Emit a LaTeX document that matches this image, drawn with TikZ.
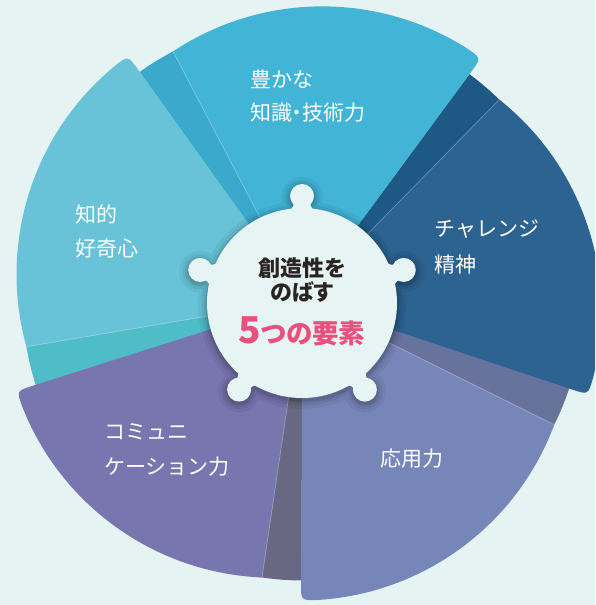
\documentclass[tikz,border=0pt]{standalone}
\usepackage{fontspec}
\newfontfamily\jp{Noto Sans CJK JP}
\newfontfamily\jpp{Noto Sans CJK JP}[RawFeature=+palt]
\usetikzlibrary{calc}
\definecolor{bg}{HTML}{E6F3F3}
\definecolor{circfill}{HTML}{E7F4F4}
\definecolor{cardJ}{HTML}{69C3D8}
\definecolor{baseJ}{HTML}{4EBDC8}
\definecolor{cardT}{HTML}{42B5D7}
\definecolor{baseT}{HTML}{3BA9CB}
\definecolor{cardC}{HTML}{2C6391}
\definecolor{baseC}{HTML}{1E5986}
\definecolor{cardO}{HTML}{7786B9}
\definecolor{baseO}{HTML}{67739B}
\definecolor{cardK}{HTML}{7876AE}
\definecolor{baseK}{HTML}{686882}
\definecolor{darktext}{HTML}{2A2522}
\definecolor{pinktext}{HTML}{E8507E}
\newcommand\cardshape[2]{%
 \pgfmathsetmacro\ka{#1}%
 \pgfmathsetmacro\kc{#1+3.9}%
 \pgfmathsetmacro\kd{#1+70}%
 \pgfmathsetmacro\ke{#1-2.9}%
 \pgfmathsetmacro\kf{#1+64}%
 \fill[#2] (C0) -- ($(C0)+(\ka:283.5)$) .. controls ($(C0)+(\ka:300.5)$) .. ($(C0)+(\ke:30.54)+(\kc:270)$) arc[start angle=\kc, end angle=\kd, radius=270] -- cycle;
 \draw[white, opacity=.3, line width=.7] (C0) -- ($(C0)+(\kf:280.5)$);
}
\newcommand\basesector[2]{%
 \pgfmathsetmacro\ba{#1}%
 \pgfmathsetmacro\bb{#1+72}%
 \fill[#2] (C0) -- ($(C0)+(\ba:280.5)$) arc[start angle=\ba, end angle=\bb, radius=280.5] -- cycle;
}
\tikzset{
  lab/.style={text=white, font=\jp\fontsize{21}{21}\selectfont, inner sep=0pt, anchor=west},
  labc/.style={text=white, font=\jp\fontsize{21}{21}\selectfont, inner sep=0pt},
  ctext/.style={text=darktext, font=\jpp\bfseries\fontsize{22}{22}\selectfont, inner sep=0pt},
  ptext/.style={text=pinktext, font=\jpp\bfseries\fontsize{26.5}{26.5}\selectfont, inner sep=0pt}
}
\begin{document}
\begin{tikzpicture}[x=1pt,y=1pt]
\useasboundingbox (0,0) rectangle (595,605);
\clip (0,0) rectangle (595,605);
\fill[bg] (0,0) rectangle (595,605);
\coordinate (C0) at (303,305);
\coordinate (CC) at (302,302);
% base sectors (visible as darker strips)
\basesector{53.6}{baseT}
\basesector{-18.4}{baseC}
\basesector{-90.4}{baseO}
\basesector{-162.4}{baseK}
\basesector{125.6}{baseJ}
% cards
\cardshape{53.6}{cardT}
\cardshape{-18.4}{cardC}
\cardshape{-90.4}{cardO}
\cardshape{-162.4}{cardK}
\cardshape{125.6}{cardJ}
% shadow of the centre disc
\foreach \w/\o in {18/0.05, 11/0.06, 6/0.07, 2.5/0.08}{
\draw[black, opacity=\o, line width=\w] ($(CC)+(0,-2)$) circle[radius=95]
  foreach \a in {90,18,-54,-126,162}{ ($(CC)+(0,-2)+(\a:107)$) circle[radius=12] };
}
% centre disc with five knobs
\fill[circfill] (CC) circle[radius=95]
  foreach \a in {90,18,-54,-126,162}{
    ($(CC)+(\a:107)$) circle[radius=12]
    ($(CC)+(\a:89)+(\a-90:15)$) .. controls ($(CC)+(\a:97)+(\a-90:8)$) .. ($(CC)+(\a:103)+(\a-90:8)$)
    -- ($(CC)+(\a:103)+(\a+90:8)$) .. controls ($(CC)+(\a:97)+(\a+90:8)$) .. ($(CC)+(\a:89)+(\a+90:15)$) -- cycle
  };
% labels
\node[lab] (t1) at (250,526) {豊かな};
\node[lab] (t2) at (250,492) {知識{\jpp ・}技術力};
\node[lab] (c1) at (434,375.5) {チャレンジ};
\node[lab] (c2) at (434,340.5) {精神};
\node[labc] (o1) at (411.5,146) {応用力};
\node[lab] (k1) at (104,173) {コミュニ};
\node[lab] (k2) at (104,138) {ケーション力};
\node[lab] (j1) at (75,391) {知的};
\node[lab] (j2) at (75,356.5) {好奇心};
% centre text
\node[ctext] (m1) at (302,337) {創造性を};
\node[ctext] (m2) at (302,313) {のばす};
\node[ptext] (m3) at (302,274) {{\fontsize{37}{37}\selectfont 5}つの要素};
\end{tikzpicture}
\end{document}
